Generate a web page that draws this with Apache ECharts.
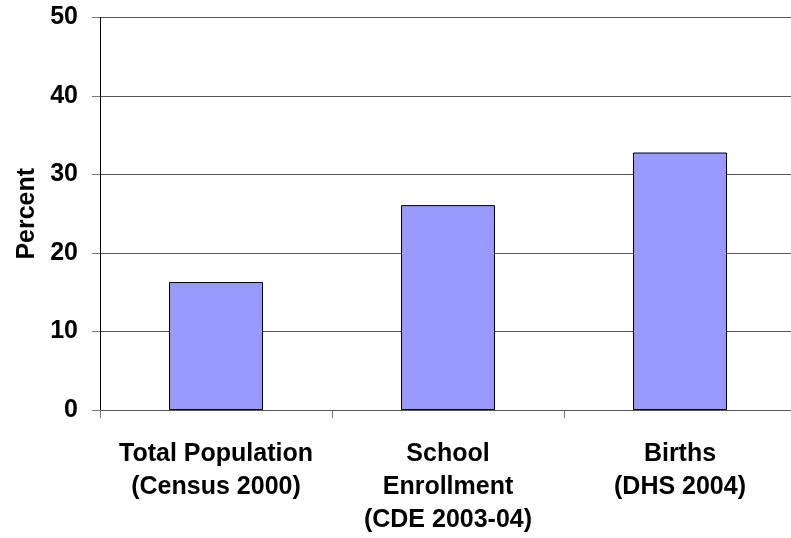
<!DOCTYPE html>
<html>
<head>
<meta charset="utf-8">
<script src="https://cdn.jsdelivr.net/npm/echarts@6/dist/echarts.min.js"></script>
<style>
  html, body { margin: 0; padding: 0; background: #fff; overflow: hidden; }
  /* canvas is a few pixels wider than the window so the plot runs off the right edge */
  #chart { width: 796px; height: 538px; }
</style>
</head>
<body>
<div id="chart"></div>
<script>
// Categories shown along the x axis (multi-line labels)
var categories = [
  'Total Population\n(Census 2000)',
  'School\nEnrollment\n(CDE 2003-04)',
  'Births\n(DHS 2004)'
];
// Percent values for each category
var percentValues = [16.3, 26.1, 32.8];
// Y axis scale
var yMin = 0, yMax = 50, yStep = 10;

var chart = echarts.init(document.getElementById('chart'), null, { renderer: 'canvas' });
var labelFont = { fontFamily: 'Liberation Sans, Arial, sans-serif', fontWeight: 'bold', fontSize: 25, color: '#000' };

chart.setOption({
  animation: false,
  backgroundColor: '#fff',
  grid: { left: 100, top: 17.5, right: 0, height: 392.5, containLabel: false },
  xAxis: {
    type: 'category',
    data: categories,
    axisLine: { show: true, lineStyle: { color: '#555', width: 1 } },
    axisTick: { show: true, alignWithLabel: false, length: 8, lineStyle: { color: '#777' } },
    axisLabel: Object.assign({ interval: 0, hideOverlap: false, margin: 28, lineHeight: 33, align: 'center' }, labelFont),
    splitLine: { show: false }
  },
  yAxis: {
    type: 'value',
    min: yMin, max: yMax, interval: yStep,
    name: 'Percent',
    nameLocation: 'middle',
    nameGap: 60,
    nameRotate: 90,
    nameTextStyle: labelFont,
    axisLine: { show: true, lineStyle: { color: '#000', width: 1 } },
    axisTick: { show: true, length: 8, lineStyle: { color: '#777' } },
    axisLabel: Object.assign({ margin: 22 }, labelFont),
    splitLine: { show: true, lineStyle: { color: '#555', width: 1 } }
  },
  series: [{
    type: 'bar',
    data: percentValues,
    barWidth: 94,
    itemStyle: { color: '#9999FF', borderColor: '#000', borderWidth: 1 }
  }]
});
</script>
</body>
</html>
